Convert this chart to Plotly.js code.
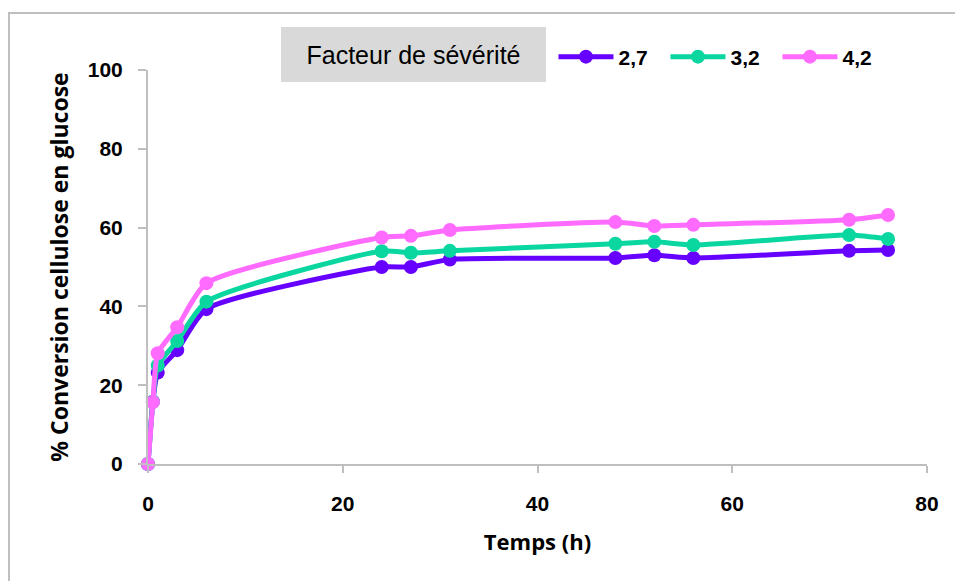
<!DOCTYPE html>
<html>
<head>
<meta charset="utf-8">
<script src="https://cdn.plot.ly/plotly-3.0.1.min.js"></script>
<style>html,body{margin:0;padding:0;background:#fff;}#chart{width:955px;height:581px;}</style>
</head>
<body>
<div id="chart"></div>
<script>
const temps = [0, 0.5, 1, 3, 6, 24, 27, 31, 48, 52, 56, 72, 76];
const fs27 = [0, 15.8, 23.2, 28.9, 39.3, 50.0, 50.0, 51.9, 52.3, 53.0, 52.3, 54.1, 54.3];
const fs32 = [0, 15.8, 25.0, 31.2, 41.2, 54.0, 53.6, 54.1, 55.9, 56.4, 55.6, 58.1, 57.1];
const fs42 = [0, 15.7, 28.1, 34.7, 45.9, 57.5, 57.9, 59.4, 61.4, 60.4, 60.7, 62.0, 63.2];
const seriesNames = ["2,7", "3,2", "4,2"];
const colors = ["#6600FF", "#0AD6A0", "#FF6BFF"];
const legendTitle = "Facteur de sévérité";
const xTitle = "Temps (h)";
const yTitle = "% Conversion cellulose en glucose";
const xTicks = [0, 20, 40, 60, 80];
const yTicks = [0, 20, 40, 60, 80, 100];

const allY = [fs27, fs32, fs42];
const traces = allY.map((ys, i) => ({
  x: temps, y: ys, name: seriesNames[i], type: "scatter", mode: "lines+markers",
  line: {color: colors[i], width: 5, shape: "spline", smoothing: 0.6},
  marker: {color: colors[i], size: 14},
  cliponaxis: false
}));

const tickFont = {family: "Liberation Sans, Arial, sans-serif", size: 21, color: "#000", weight: "bold"};
const titleFont = {family: "Open Sans, sans-serif", size: 22, color: "#000", weight: "bold"};
const layout = {
  width: 955, height: 581,
  margin: {l: 148, r: 28, t: 70, b: 117, autoexpand: false},
  paper_bgcolor: "#fff", plot_bgcolor: "#fff",
  showlegend: true,
  legend: {orientation: "h", x: 0.5205, xanchor: "left", y: 1.033, yanchor: "middle",
    font: {family: "Liberation Sans, Arial, sans-serif", size: 21, color: "#000", weight: "bold"},
    entrywidth: 42, itemwidth: 55, tracegroupgap: 0, bgcolor: "rgba(0,0,0,0)", borderwidth: 0},
  xaxis: {range: [0, 80], tickvals: xTicks, ticks: "outside", ticklen: 7, tickwidth: 2, tickcolor: "#BFBFBF",
    showline: true, linecolor: "#BFBFBF", linewidth: 2, showgrid: false, zeroline: false,
    tickfont: tickFont, ticklabelstandoff: 13,
    title: {text: xTitle, font: titleFont, standoff: 20}},
  yaxis: {range: [0, 100], tickvals: yTicks, ticks: "outside", ticklen: 8, tickwidth: 2, tickcolor: "#BFBFBF",
    showline: true, linecolor: "#BFBFBF", linewidth: 2, showgrid: false, zeroline: false,
    tickfont: tickFont, ticklabelstandoff: 11,
    title: {text: yTitle, font: {family: "Open Sans, sans-serif", size: 23, color: "#000", weight: "bold"}, standoff: 13}},
  shapes: [
    {type: "rect", xref: "paper", yref: "paper", x0: -0.1784, x1: 1.3, y0: -0.5, y1: 1.1447,
     line: {color: "#BFBFBF", width: 2}, fillcolor: "rgba(0,0,0,0)", layer: "below"}
  ],
  annotations: [
    {text: legendTitle, xref: "paper", yref: "paper", x: 0.1707, xanchor: "left", y: 1.0393, yanchor: "middle",
     showarrow: false, bgcolor: "#D9D9D9", width: 265, height: 55, borderpad: 0, borderwidth: 0, align: "center",
     font: {family: "Liberation Sans Narrow, Liberation Sans, sans-serif", size: 25, color: "#000"}}
  ]
};
Plotly.newPlot("chart", traces, layout, {displayModeBar: false, staticPlot: true});
</script>
</body>
</html>
